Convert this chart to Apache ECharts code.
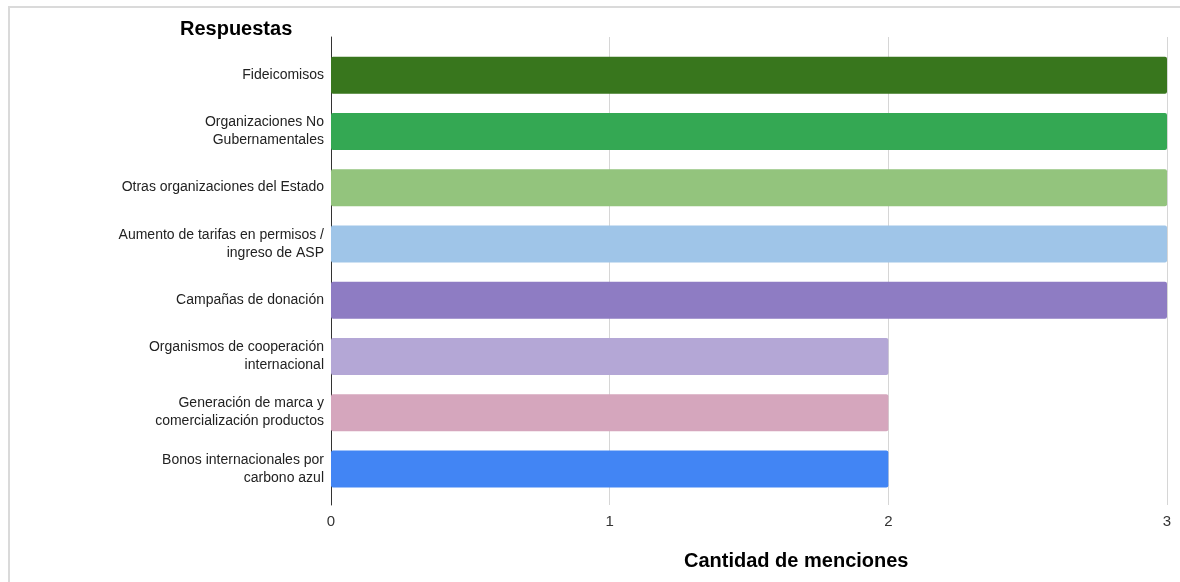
<!DOCTYPE html>
<html>
<head>
<meta charset="utf-8">
<script src="https://cdn.jsdelivr.net/npm/echarts@6/dist/echarts.min.js"></script>
<style>
  html, body { margin: 0; padding: 0; background: #fff; }
  #wrap { position: relative; width: 1180px; height: 582px; overflow: hidden; }
  #frame { position: absolute; left: 8px; top: 6px; width: 1200px; height: 600px;
           border-top: 2px solid #dadada; border-left: 2px solid #dadada; }
  #chart { position: absolute; left: 0; top: 0; width: 1180px; height: 582px; }
</style>
</head>
<body>
<div id="wrap">
  <div id="frame"></div>
  <div id="chart"></div>
</div>
<script>
var categories = [
  'Fideicomisos',
  'Organizaciones No\nGubernamentales',
  'Otras organizaciones del Estado',
  'Aumento de tarifas en permisos /\ningreso de ASP',
  'Campañas de donación',
  'Organismos de cooperación\ninternacional',
  'Generación de marca y\ncomercialización productos',
  'Bonos internacionales por\ncarbono azul'
];
var menciones = [3, 3, 3, 3, 3, 2, 2, 2];
var xTicks = [0, 1, 2, 3];
var barColors = ['#38761d', '#34a853', '#93c47d', '#9fc5e8', '#8e7cc3', '#b4a7d6', '#d5a6bd', '#4285f4'];

var font = '"Liberation Sans", Arial, sans-serif';

var myChart = echarts.init(document.getElementById('chart'));

var option = {
  animation: false,
  title: [
    { text: 'Respuestas', left: 175, top: 14,
      textStyle: { fontFamily: font, fontSize: 20, fontWeight: 'bold', color: '#000' } },
    { text: 'Cantidad de menciones', left: 679, top: 546,
      textStyle: { fontFamily: font, fontSize: 20, fontWeight: 'bold', color: '#000' } }
  ],
  grid: [
    // frame grid: axis line + gridlines, a bit taller than the bars
    { left: 331, right: 13, top: 37, bottom: 77 },
    // bars
    { left: 331, right: 13, top: 47, bottom: 85 }
  ],
  xAxis: [
    { type: 'value', gridIndex: 0, min: xTicks[0], max: xTicks[xTicks.length - 1], interval: 1,
      axisLine: { show: false }, axisTick: { show: false },
      splitLine: { show: true, lineStyle: { color: '#d6d6d6', width: 1 } },
      axisLabel: { margin: 9, color: '#333', fontSize: 15, fontFamily: font } },
    { type: 'value', gridIndex: 1, min: xTicks[0], max: xTicks[xTicks.length - 1], interval: 1,
      show: false }
  ],
  yAxis: [
    { type: 'value', gridIndex: 0, min: 0, max: 1,
      axisLine: { show: true, lineStyle: { color: '#333', width: 1 } },
      axisTick: { show: false }, axisLabel: { show: false }, splitLine: { show: false } },
    { type: 'category', gridIndex: 1, data: categories, inverse: true,
      axisLine: { show: false }, axisTick: { show: false },
      axisLabel: { margin: 7, color: '#222', fontSize: 14, lineHeight: 18, fontFamily: font, align: 'right' } }
  ],
  series: [{
    type: 'bar',
    xAxisIndex: 1,
    yAxisIndex: 1,
    barWidth: 37,
    data: menciones.map(function (v, i) {
      return { value: v, itemStyle: { color: barColors[i], borderRadius: 2 } };
    })
  }]
};

myChart.setOption(option);
</script>
</body>
</html>
